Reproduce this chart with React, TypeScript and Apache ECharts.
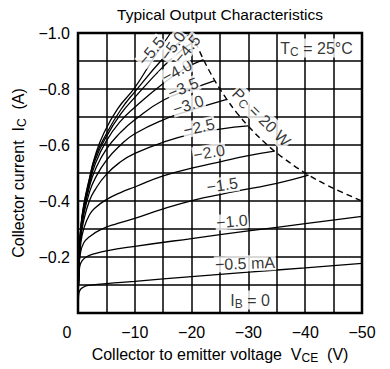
import React, { useEffect, useRef } from 'react';
import * as echarts from 'echarts';

const FONT = '"Liberation Sans", Arial, Helvetica, sans-serif';

const xTickLabels = [-10, -20, -30, -40, -50];
const yTickLabels = [-0.2, -0.4, -0.6, -0.8, -1.0];

// Collector current curves (VCE [V], IC [A]) per base current
const ib05 = [[0, 0], [-0.1, -0.06], [-0.3, -0.08], [-1, -0.093], [-2, -0.099], [-5, -0.105], [-10, -0.113], [-20, -0.13], [-30, -0.146], [-40, -0.161], [-50, -0.177]];
const ib10 = [[0, 0], [-0.1, -0.12], [-0.3, -0.165], [-0.7, -0.186], [-1.5, -0.201], [-3, -0.212], [-5, -0.222], [-10, -0.238], [-20, -0.266], [-30, -0.293], [-40, -0.319], [-50, -0.345]];
const ib15 = [[0, 0], [-0.15, -0.15], [-0.4, -0.21], [-1, -0.25], [-2, -0.272], [-4, -0.298], [-7, -0.32], [-10, -0.338], [-15, -0.372], [-20.6, -0.404], [-25, -0.423], [-30, -0.443], [-35, -0.463], [-40.6, -0.4925]];
const ib20 = [[0, 0], [-0.2, -0.17], [-0.5, -0.25], [-1, -0.3], [-2, -0.35], [-3, -0.375], [-5, -0.405], [-7.5, -0.43], [-10, -0.45], [-15, -0.49], [-20.6, -0.52], [-25, -0.54], [-30, -0.562], [-34.6, -0.578]];
const ib25 = [[0, 0], [-0.2, -0.18], [-0.5, -0.27], [-1, -0.33], [-2, -0.4], [-3, -0.44], [-5, -0.495], [-7.5, -0.54], [-10, -0.57], [-15, -0.61], [-20.6, -0.642], [-25, -0.657], [-29.95, -0.668]];
const ib30 = [[0, 0], [-0.2, -0.19], [-0.5, -0.28], [-1, -0.35], [-2, -0.43], [-3, -0.48], [-5, -0.545], [-7.5, -0.6], [-10, -0.64], [-15, -0.69], [-20, -0.725], [-26.2, -0.763]];
const ib35 = [[0, 0], [-0.2, -0.2], [-0.5, -0.29], [-1, -0.36], [-2, -0.45], [-3, -0.51], [-5, -0.585], [-7.5, -0.645], [-10, -0.69], [-15, -0.76], [-20, -0.8], [-24.1, -0.83]];
const ib40 = [[0, 0], [-0.2, -0.2], [-0.5, -0.3], [-1, -0.37], [-2, -0.46], [-3, -0.53], [-5, -0.615], [-7.5, -0.685], [-10, -0.735], [-15, -0.82], [-19, -0.875], [-22.1, -0.905]];
const ib45 = [[0, 0], [-0.2, -0.2], [-0.5, -0.3], [-1, -0.375], [-2, -0.47], [-3, -0.545], [-5, -0.63], [-7.5, -0.71], [-10, -0.77], [-15, -0.88], [-18, -0.935], [-20.6, -0.971]];
const ib50 = [[0, 0], [-0.2, -0.2], [-0.5, -0.305], [-1, -0.38], [-2, -0.475], [-3, -0.555], [-5, -0.64], [-7.5, -0.725], [-10, -0.79], [-15, -0.91], [-18, -0.97], [-20, -1.0]];
const ib55 = [[0, 0], [-0.2, -0.2], [-0.5, -0.31], [-1, -0.385], [-2, -0.48], [-3, -0.56], [-4.5, -0.64], [-7, -0.73], [-10, -0.805], [-13, -0.9], [-16.3, -1.0]];

const curves = [ib05, ib10, ib15, ib20, ib25, ib30, ib35, ib40, ib45, ib50, ib55];

// Collector dissipation limit PC = 20 W
const pcCurve = [[-20, -1.0], [-22, -0.909], [-24, -0.833], [-26, -0.769], [-28, -0.714], [-30, -0.667], [-33, -0.606], [-36, -0.556], [-40, -0.5], [-44, -0.455], [-50, -0.4]];

// annotation texts
const labelTexts = ['−0.5 mA', '−1.0', '−1.5', '−2.0', '−2.5', '−3.0', '−3.5', '−4.0', '−4.5', '−5.0', '−5.5', 'I{s|B} = 0', 'T{s|C} = 25°C', 'P{s|C} = 20 W'];
const labelAnchors = [[-29.4, -0.177], [-27.1, -0.327], [-25.4, -0.457], [-23.1, -0.573], [-21.3, -0.664], [-19.4, -0.743], [-18.5, -0.804], [-17.4, -0.864], [-19.2, -0.943], [-16.7, -0.954], [-12.9, -0.935], [-30.3, -0.046], [-42.0, -0.946], [-32.3, -0.699]];
const labelAngles = [2, 5, 8, 10, 13, 18, 22, 28, 50, 55, 50, 0, 0, -45];

const subStyle = { fontSize: 12, padding: [7, 0, 0, 0], fontFamily: FONT, color: '#000' };

export default function App() {
  const ref = useRef<HTMLDivElement>(null);
  useEffect(() => {
    document.body.style.margin = '0';
    const chart = echarts.init(ref.current!, undefined, { renderer: 'svg' });
    const lineSeries = curves.map((c) => ({
      type: 'line',
      data: c,
      smooth: 0.5,
      showSymbol: false,
      silent: true,
      z: 3,
      lineStyle: { color: '#000', width: 1.3 },
    }));
    chart.setOption({
      animation: false,
      backgroundColor: '#fff',
      textStyle: { fontFamily: FONT },
      graphic: [
        {
          type: 'text',
          x: 220,
          y: 14,
          style: { text: 'Typical Output Characteristics', fontSize: 15.5, fontFamily: FONT, fill: '#000', align: 'center', verticalAlign: 'middle' },
        },
      ],
      grid: { left: 78, top: 33, width: 284, height: 280, show: true, borderColor: '#000', borderWidth: 2.5, backgroundColor: 'transparent' },
      xAxis: {
        type: 'value', min: -50, max: 0, interval: 5, inverse: true,
        axisLine: { show: false }, axisTick: { show: false },
        splitLine: { show: true, lineStyle: { color: '#000', width: 1.5 } },
        axisLabel: {
          margin: 11, fontSize: 16, color: '#000', fontFamily: FONT,
          formatter: (v: number) => (v === 0 ? '{z|0}' : xTickLabels.indexOf(v) >= 0 ? '−' + Math.abs(v) : ''),
          rich: { z: { padding: [0, 22, 0, 0], fontSize: 16, fontFamily: FONT, color: '#000' } },
        },
        name: 'Collector to emitter voltage  V{s|CE}  (V)',
        nameLocation: 'middle', nameGap: 32,
        nameTextStyle: { fontSize: 16, color: '#000', fontFamily: FONT, rich: { s: subStyle } },
      },
      yAxis: {
        type: 'value', min: -1, max: 0, interval: 0.1, inverse: true,
        axisLine: { show: false }, axisTick: { show: false },
        splitLine: { show: true, lineStyle: { color: '#000', width: 1.5 } },
        axisLabel: {
          margin: 8, fontSize: 16, color: '#000', fontFamily: FONT,
          formatter: (v: number) => (yTickLabels.some((t) => Math.abs(t - v) < 1e-6) ? '−' + Math.abs(v).toFixed(1) : ''),
        },
        name: 'Collector current  I{s|C}  (A)',
        nameLocation: 'middle', nameGap: 44, nameRotate: 90,
        nameTextStyle: { fontSize: 16, color: '#000', fontFamily: FONT, rich: { s: subStyle } },
      },
      series: [
        ...lineSeries,
        {
          type: 'line', data: pcCurve, smooth: 0.4, showSymbol: false, silent: true, z: 3,
          lineStyle: { color: '#000', width: 1.4, type: [6, 4] },
        },
        {
          type: 'scatter', symbolSize: 0, silent: true, z: 10,
          label: {
            show: true, position: 'inside', fontSize: 16, color: '#000', fontFamily: FONT,
            backgroundColor: '#fff', padding: [0, 1],
            rich: { s: { ...subStyle, backgroundColor: '#fff' } },
          },
          data: labelAnchors.map((p, i) => ({
            value: p,
            label: { formatter: labelTexts[i], rotate: labelAngles[i] },
          })),
        },
      ],
    });
    return () => chart.dispose();
  }, []);
  return <div ref={ref} style={{ position: 'fixed', left: 0, top: 0, width: 390, height: 369, background: '#fff' }} />;
}
